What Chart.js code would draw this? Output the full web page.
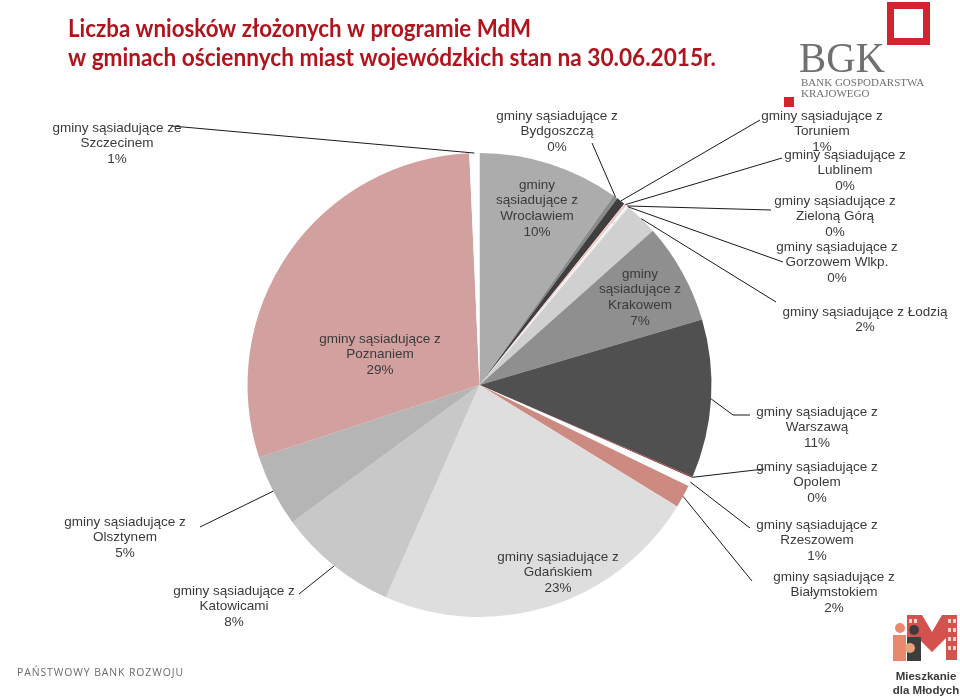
<!DOCTYPE html>
<html>
<head>
<meta charset="utf-8">
<script src="https://cdn.jsdelivr.net/npm/chart.js@4.4.0/dist/chart.umd.min.js"></script>
<style>
  html, body { margin: 0; padding: 0; background: #fff; }
  #wrap { width: 960px; height: 699px; position: relative; }
</style>
</head>
<body>
<div id="wrap"><canvas id="mdm" width="960" height="699"></canvas></div>
<script>
// udział wniosków (%)
const categories = ["Wrocławiem", "Bydgoszczą", "Toruniem", "Lublinem", "Zieloną Górą", "Gorzowem Wlkp.",
  "Łodzią", "Krakowem", "Warszawą", "Opolem", "Rzeszowem", "Białymstokiem",
  "Gdańskiem", "Katowicami", "Olsztynem", "Poznaniem", "Szczecinem"];
const shares = [9.8, 0.3, 0.6, 0.2, 0.1, 0.1, 2.3, 7.0, 11.0, 0.1, 0.6, 1.6, 22.8, 8.3, 5.0, 29.3, 0.7];
const sliceColors = ["#acacac", "#8a8a8a", "#3f3f3f", "#f2c9c9", "#ffffff", "#e6e6e6",
  "#d0d0d0", "#8f8f8f", "#505050", "#9b3b3b", "#ffffff", "#cc8a80",
  "#dedede", "#c8c8c8", "#b5b5b5", "#d3a0a0", "#ffffff"];

// rozmieszczenie etykiet: środek pierwszej linii, sposób łamania, koniec linii odniesienia
const labelLayout = [
  { x: 537, y: 185, wrap: "inner" },
  { x: 557, y: 116, wrap: "std", from: [592, 143] },
  { x: 822, y: 116, wrap: "std", from: [760, 120] },
  { x: 845, y: 155, wrap: "std", from: [782, 158] },
  { x: 835, y: 201, wrap: "std", from: [771, 210] },
  { x: 837, y: 247, wrap: "std", from: [783, 262] },
  { x: 865, y: 312, wrap: "one", from: [776, 302] },
  { x: 640, y: 274, wrap: "inner" },
  { x: 817, y: 412, wrap: "std", from: [750, 415], elbow: [733, 415] },
  { x: 817, y: 467, wrap: "std", from: [764, 469] },
  { x: 817, y: 525, wrap: "std", from: [750, 528] },
  { x: 834, y: 577, wrap: "std", from: [752, 581] },
  { x: 558, y: 557, wrap: "std" },
  { x: 234, y: 591, wrap: "std", from: [299, 594] },
  { x: 125, y: 522, wrap: "std", from: [200, 527] },
  { x: 380, y: 339, wrap: "std" },
  { x: 117, y: 128, wrap: "std", prep: "ze", from: [172, 126] }
];

const total = shares.reduce((a, b) => a + b, 0);

function labelLines(i) {
  const pct = Math.round(shares[i] / total * 100) + "%";
  const l = labelLayout[i];
  const prep = l.prep || "z";
  if (l.wrap === "inner") return ["gminy", "sąsiadujące " + prep, categories[i], pct];
  if (l.wrap === "one") return ["gminy sąsiadujące " + prep + " " + categories[i], pct];
  return ["gminy sąsiadujące " + prep, categories[i], pct];
}

const sliceLabels = {
  id: "sliceLabels",
  afterDraw(chart) {
    const ctx = chart.ctx;
    const arcs = chart.getDatasetMeta(0).data;
    ctx.save();
    // linie odniesienia
    ctx.strokeStyle = "#1a1a1a";
    ctx.lineWidth = 1;
    arcs.forEach((arc, i) => {
      const l = labelLayout[i];
      if (!l.from) return;
      const p = arc.getProps(["x", "y", "startAngle", "endAngle", "outerRadius"], true);
      const a = (p.startAngle + p.endAngle) / 2;
      const ex = p.x + Math.cos(a) * p.outerRadius;
      const ey = p.y + Math.sin(a) * p.outerRadius;
      ctx.beginPath();
      ctx.moveTo(l.from[0], l.from[1]);
      if (l.elbow) ctx.lineTo(l.elbow[0], l.elbow[1]);
      ctx.lineTo(ex, ey);
      ctx.stroke();
    });
    // teksty
    ctx.fillStyle = "#3a3a3a";
    ctx.font = '13.5px "Liberation Sans", Arial, sans-serif';
    ctx.textAlign = "center";
    ctx.textBaseline = "middle";
    labelLayout.forEach((l, i) => {
      labelLines(i).forEach((t, k) => ctx.fillText(t, l.x, l.y + k * 15.6));
    });
    ctx.restore();
  }
};

const decorations = {
  id: "decorations",
  afterDraw(chart) {
    const ctx = chart.ctx;
    ctx.save();
    // tytuł
    ctx.fillStyle = "#b0141c";
    ctx.font = 'bold 25px Lato, "Open Sans", sans-serif';
    ctx.textAlign = "left";
    ctx.textBaseline = "alphabetic";
    ctx.fillText("Liczba wniosków złożonych w programie MdM", 68, 37, 463);
    ctx.fillText("w gminach ościennych miast wojewódzkich stan na 30.06.2015r.", 68, 66, 648);

    // logo BGK
    ctx.strokeStyle = "#d2232e";
    ctx.lineWidth = 7;
    ctx.strokeRect(890.5, 5.5, 36, 36);
    ctx.fillStyle = "#d2232e";
    ctx.fillRect(784, 97, 10, 10);
    ctx.fillStyle = "#6f7072";
    ctx.font = '42px "Liberation Serif", serif';
    ctx.fillText("BGK", 799, 72, 86);
    ctx.font = '11px "Liberation Serif", serif';
    ctx.fillText("BANK GOSPODARSTWA", 801, 86, 129);
    ctx.fillText("KRAJOWEGO", 801, 97, 70);

    // stopka
    ctx.fillStyle = "#6b6b6b";
    ctx.font = '11.5px "Open Sans", sans-serif';
    ctx.letterSpacing = "1px";
    ctx.fillText("PAŃSTWOWY BANK ROZWOJU", 17, 676, 167);
    ctx.letterSpacing = "0px";

    // logo Mieszkanie dla Młodych
    ctx.fillStyle = "#d4514d";
    ctx.beginPath();
    ctx.moveTo(907, 660); ctx.lineTo(907, 615); ctx.lineTo(922, 615); ctx.lineTo(932, 632);
    ctx.lineTo(942, 615); ctx.lineTo(957, 615); ctx.lineTo(957, 660); ctx.lineTo(946, 660);
    ctx.lineTo(946, 638); ctx.lineTo(932, 652); ctx.lineTo(918, 638); ctx.lineTo(918, 660);
    ctx.closePath(); ctx.fill();
    ctx.fillStyle = "#f3d3d0";
    for (let r = 0; r < 4; r++) {
      for (let c = 0; c < 2; c++) {
        ctx.fillRect(909 + c * 5, 619 + r * 9, 3, 4);
        ctx.fillRect(948 + c * 5, 619 + r * 9, 3, 4);
      }
    }
    // postacie
    ctx.fillStyle = "#e9886d";
    ctx.beginPath(); ctx.arc(900, 628, 5, 0, Math.PI * 2); ctx.fill();
    ctx.fillRect(893, 635, 13, 26);
    ctx.fillStyle = "#3d3d3d";
    ctx.beginPath(); ctx.arc(914, 630, 5, 0, Math.PI * 2); ctx.fill();
    ctx.fillRect(907, 637, 14, 24);
    ctx.fillStyle = "#e6a27a";
    ctx.beginPath(); ctx.arc(910, 648, 5, 0, Math.PI * 2); ctx.fill();

    ctx.fillStyle = "#3a3a3a";
    ctx.font = 'bold 11.5px "Liberation Sans", Arial, sans-serif';
    ctx.textAlign = "center";
    ctx.fillText("Mieszkanie", 926, 680);
    ctx.fillText("dla Młodych", 926, 694);
    ctx.restore();
  }
};

new Chart(document.getElementById("mdm").getContext("2d"), {
  type: "pie",
  data: {
    labels: categories,
    datasets: [{
      data: shares,
      backgroundColor: sliceColors,
      borderWidth: 0,
    }],
  },
  options: {
    responsive: false,
    animation: false,
    layout: { padding: { top: 153, bottom: 82, left: 247.5, right: 248.5 } },
    plugins: {
      legend: { display: false },
      tooltip: { enabled: false },
      title: { display: false },
    },
  },
  plugins: [sliceLabels, decorations],
});
</script>
</body>
</html>
